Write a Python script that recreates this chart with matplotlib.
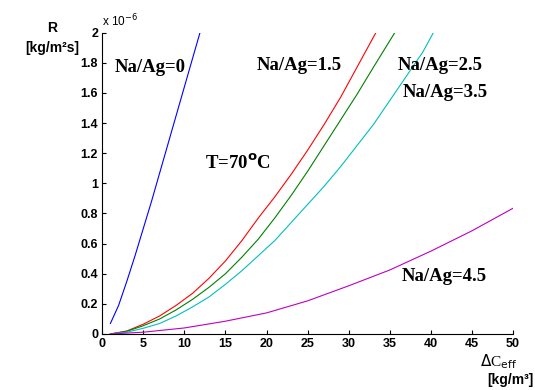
import numpy as np
import matplotlib.pyplot as plt

# R values in units of 1e-6 kg/m2s
x_na0 = [1.0, 2, 3, 4, 5, 6, 7, 8, 9, 10, 11, 11.9]
r_na0 = [0.07, 0.19, 0.35, 0.52, 0.70, 0.88, 1.07, 1.26, 1.45, 1.64, 1.83, 2.0]

x_curve = [1, 3, 5, 7, 9, 11, 13, 15, 17, 19, 21, 23, 25, 27, 29, 31, 33]
r_na15 = [0.0, 0.02, 0.065, 0.12, 0.19, 0.27, 0.37, 0.485, 0.62, 0.77, 0.91,
          1.06, 1.22, 1.39, 1.57, 1.77, 1.97]
r_na25 = [0.0, 0.018, 0.055, 0.10, 0.16, 0.23, 0.31, 0.40, 0.51, 0.63, 0.77,
          0.92, 1.08, 1.25, 1.42, 1.59, 1.77]
r_na35 = [0.0, 0.012, 0.038, 0.07, 0.12, 0.18, 0.246, 0.33, 0.42, 0.52, 0.62,
          0.74, 0.86, 0.98, 1.11, 1.25, 1.39]
x_na15_end = [33.3]
r_na15_end = [2.0]
x_na25_end = [35.6]
r_na25_end = [2.0]
x_na35_end = [35, 37, 39, 40.3]
r_na35_end = [1.55, 1.71, 1.87, 2.0]

x_na45 = [1, 5, 10, 15, 20, 25, 30, 35, 40, 45, 50]
r_na45 = [0.0, 0.012, 0.04, 0.085, 0.14, 0.22, 0.32, 0.425, 0.55, 0.685, 0.835]

xticks = np.arange(0, 51, 5)
yticks = np.round(np.arange(0, 2.01, 0.2), 1)

fig = plt.figure(figsize=(5.35, 3.9), dpi=100)
ax = fig.add_axes([0.191, 0.1436, 0.768, 0.7725])

ax.plot(x_na0, r_na0, color='#0000ff', lw=0.8)
ax.plot(x_curve + x_na15_end, r_na15 + r_na15_end, color='#ff0000', lw=0.8)
ax.plot(x_curve + x_na25_end, r_na25 + r_na25_end, color='#008000', lw=0.8)
ax.plot(x_curve + x_na35_end, r_na35 + r_na35_end, color='#00bfbf', lw=0.8)
ax.plot(x_na45, r_na45, color='#bf00bf', lw=0.8)

ax.set_xlim(0, 50)
ax.set_ylim(0, 2)
ax.set_xticks(xticks)
ax.set_xticklabels(['%g' % v for v in xticks])
ax.set_yticks(yticks)
ax.set_yticklabels(['%g' % v for v in yticks])
plt.setp(ax.get_xticklabels() + ax.get_yticklabels(),
         family='Liberation Sans', fontweight='bold', fontsize=9)
for s in ['top', 'right']:
    ax.spines[s].set_visible(False)
ax.tick_params(direction='in', length=3, width=0.8, pad=3)

ax.text(0.0, 1.013, r'x 10$^{-6}$', transform=ax.transAxes, fontsize=8.5,
        family='Liberation Sans', va='bottom', ha='left')

serif = dict(family='Liberation Serif', fontweight='bold', fontsize=13.5, va='center')
ax.text(1.5, 1.77, 'Na/Ag=0', **serif)
ax.text(18.8, 1.78, 'Na/Ag=1.5', **serif)
ax.text(36.0, 1.78, 'Na/Ag=2.5', **serif)
ax.text(36.6, 1.60, 'Na/Ag=3.5', **serif)
ax.text(12.5, 1.135, 'T=70$^{\\mathbf{o}}$C', **serif)
ax.text(36.5, 0.38, 'Na/Ag=4.5', **serif)

lbl = dict(family='Liberation Sans', fontweight='bold', fontsize=10, ha='center')
fig.text(52 / 535, 1 - 28 / 390, 'R', va='center', **lbl)
fig.text(52 / 535, 1 - 48 / 390, '[kg/m²s]', va='center', **lbl)
fig.text(499 / 535, 1 - 362 / 390, '$\\Delta$C$_{\\mathrm{eff}}$', va='center',
         family='Liberation Serif', fontsize=11, ha='center')
fig.text(533 / 535, 3 / 390, '[kg/m³]', va='bottom',
         family='Liberation Sans', fontweight='bold', fontsize=10, ha='right')

fig.savefig('out.png', dpi=100)
